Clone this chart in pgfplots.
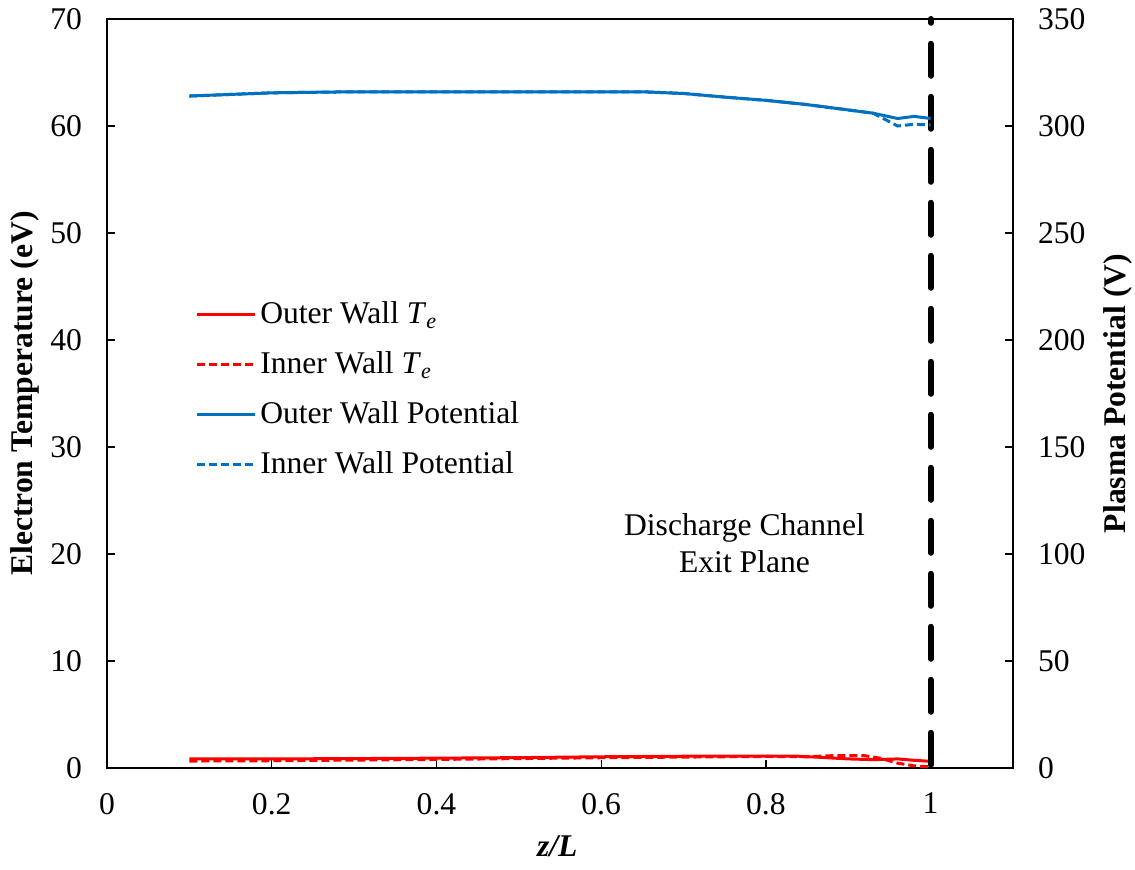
\documentclass[border=0pt]{standalone}
\usepackage{fontspec}
\setmainfont{Liberation Serif}
\usepackage{pgfplots}
\pgfplotsset{compat=1.18}
\definecolor{exred}{RGB}{255,0,0}
\definecolor{exblue}{RGB}{0,112,192}
\pgfplotsset{
  every axis/.append style={
    scale only axis, width=453pt, height=374.5pt,
    /pgf/number format/assume math mode=true,
    tick label style={font=\fontsize{15.8}{18}\selectfont},
    label style={font=\fontsize{15.8}{18}\selectfont},
    tick align=inside, major tick length=4pt,
    axis line style={line width=0.8pt}, tick style={line width=0.6pt, black},
  }
}
\begin{document}
\begin{tikzpicture}
\useasboundingbox (-53.5pt,-50.5pt) rectangle (514pt,384pt);
\begin{axis}[
  xmin=0, xmax=1.1, ymin=0, ymax=70,
  xtick={0,0.2,0.4,0.6,0.8,1}, xticklabels={0,0.2,0.4,0.6,0.8,1},
  ytick={0,10,...,70},
  xtick pos=bottom, ytick pos=left,
  xticklabel style={yshift=-9pt},
  yticklabel style={xshift=-9pt},
  xlabel={\textbf{\textit{z/L}}},
  ylabel={\textbf{Electron Temperature (eV)}},
  xlabel style={at={(axis description cs:0.497,-0.105)}, anchor=center},
  ylabel style={at={(axis description cs:-0.0905,0.5)}, anchor=center},
  clip=false,
]
\addplot[exred, line width=1.5pt] coordinates {
(0.1,0.85) (0.2,0.85) (0.3,0.88) (0.4,0.92) (0.5,0.97) (0.6,1.05) (0.7,1.1) (0.8,1.1) (0.84,1.1) (0.87,0.98) (0.9,0.85) (0.93,0.78) (0.96,0.85) (0.98,0.72) (1.0,0.62)};
\addplot[exred, line width=1.5pt, dash pattern=on 4pt off 2pt] coordinates {
(0.1,0.65) (0.2,0.68) (0.3,0.74) (0.4,0.8) (0.5,0.88) (0.6,0.96) (0.7,1.02) (0.8,1.08) (0.85,1.05) (0.88,1.15) (0.92,1.15) (0.94,0.9) (0.96,0.45) (0.98,0.2) (1.0,0.1)};
\addplot[black, line width=3pt, line cap=round, dash pattern=on 16pt off 10.5pt] coordinates {(1,0.3) (1,70)};
\node[align=center, font=\fontsize{15.8}{18.5}\selectfont] at (axis cs:0.774,21.0) {Discharge Channel\\Exit Plane};
\end{axis}
\begin{axis}[
  xmin=0, xmax=1.1, ymin=0, ymax=350,
  axis x line=none, axis y line*=right,
  ytick={0,50,...,350},
  yticklabel style={xshift=9pt},
  ylabel={\textbf{Plasma Potential (V)}},
  ylabel style={at={(axis description cs:1.116,0.5)}, anchor=center},
  legend style={draw=none, fill=none, at={(0.097,0.628)}, anchor=north west,
    font=\fontsize{15.8}{18}\selectfont, row sep=8.5pt, inner sep=0pt,
    /tikz/every even column/.append style={column sep=4pt}},
  legend cell align=left,
  legend image code/.code={\draw[#1] (0pt,0pt) -- (29pt,0pt);},
]
\addlegendimage{exred, line width=1.5pt}
\addlegendentry{Outer Wall \textit{T}\textsubscript{\textit{e}}}
\addlegendimage{exred, line width=1.5pt, dash pattern=on 4pt off 2pt}
\addlegendentry{Inner Wall \textit{T}\textsubscript{\textit{e}}}
\addplot[exblue, line width=1.5pt] coordinates {
(0.1,314) (0.2,315.5) (0.3,316) (0.4,316) (0.5,316) (0.6,316) (0.65,316) (0.7,315.2) (0.75,313.5) (0.8,312) (0.85,310) (0.9,307.5) (0.93,306) (0.96,303.5) (0.98,304.5) (1.0,303.5)};
\addlegendentry{Outer Wall Potential}
\addplot[exblue, line width=1.5pt, dash pattern=on 4pt off 2pt] coordinates {
(0.1,314) (0.2,315.5) (0.3,316) (0.4,316) (0.5,316) (0.6,316) (0.65,316) (0.7,315.2) (0.75,313.5) (0.8,312) (0.85,310) (0.9,307.5) (0.93,306) (0.945,303) (0.96,300) (0.98,300.8) (1.0,300.5)};
\addlegendentry{Inner Wall Potential}
\end{axis}
\end{tikzpicture}
\end{document}
